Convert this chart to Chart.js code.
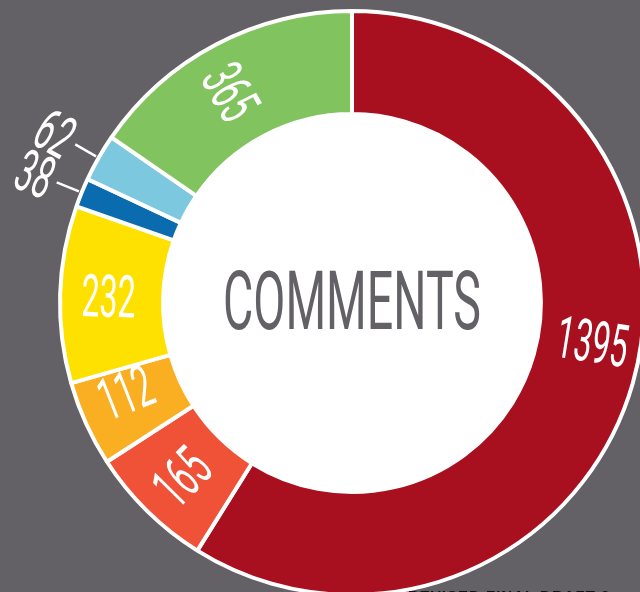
<!DOCTYPE html>
<html>
<head>
<meta charset="utf-8">
<script src="https://cdn.jsdelivr.net/npm/chart.js@4"></script>
<style>
  html, body { margin: 0; padding: 0; width: 640px; height: 592px; overflow: hidden; background: #636166; }
  #wrap { position: absolute; left: 0; top: 0; width: 704px; height: 606px; }
  #footer { position: absolute; left: 408px; top: 587px; font: bold 15px "Liberation Sans", Arial, sans-serif; color: #111; letter-spacing: 1px; white-space: nowrap; }
</style>
</head>
<body>
<div id="wrap"><canvas id="comments"></canvas></div>
<div id="footer">REVISED FINAL DRAFT 2</div>
<script>
// segment data, clockwise from 12 o'clock
const segments = ['Red', 'Coral', 'Orange', 'Yellow', 'Blue', 'Light blue', 'Green'];
const counts = [1395, 165, 112, 232, 38, 62, 365];
const colors = ['#A8101F', '#F05237', '#FAAE22', '#FFE100', '#0A6BAE', '#7BC8DF', '#80C35F'];
const centerTitle = 'COMMENTS';
// small nudges (degrees) for where the number sits along its slice
const labelShift = [-7, 0, 3, 0, 0, 0, -2];

const FONT = 'Roboto, "Liberation Sans", sans-serif';

function drawText(ctx, text, x, y, rot, size, width, color) {
    ctx.save();
    ctx.translate(x, y);
    ctx.rotate(rot);
    ctx.font = size + 'px ' + FONT;
    const w = ctx.measureText(text).width;
    ctx.scale(width / w, 1);
    ctx.fillStyle = color;
    ctx.textAlign = 'center';
    ctx.textBaseline = 'alphabetic';
    ctx.fillText(text, 0, size * 0.711 / 2);
    ctx.restore();
}

const labelPlugin = {
    id: 'sliceLabels',
    beforeDatasetsDraw(chart) {
        // white hole in the middle
        const arc = chart.getDatasetMeta(0).data[0];
        if (!arc) return;
        const ctx = chart.ctx;
        ctx.save();
        ctx.fillStyle = '#fff';
        ctx.beginPath();
        ctx.arc(arc.x, arc.y, arc.innerRadius + 1, 0, Math.PI * 2);
        ctx.fill();
        ctx.restore();
    },
    afterDraw(chart) {
        const ctx = chart.ctx;
        const meta = chart.getDatasetMeta(0);
        meta.data.forEach((arc, i) => {
            const p = arc.getProps(['x', 'y', 'startAngle', 'endAngle', 'innerRadius', 'outerRadius'], true);
            const a = (p.startAngle + p.endAngle) / 2 + labelShift[i] * Math.PI / 180;
            const txt = String(counts[i]);
            // read outward on the right, inward on the left
            const rot = Math.cos(a) >= 0 ? a : a + Math.PI;
            const outside = counts[i] < 100;
            const r = outside ? p.outerRadius + 50 : (p.innerRadius + p.outerRadius) / 2 + 3;
            if (outside) {
                ctx.save();
                ctx.strokeStyle = '#fff';
                ctx.lineWidth = 2.5;
                ctx.beginPath();
                ctx.moveTo(p.x + Math.cos(a) * (p.outerRadius + 3), p.y + Math.sin(a) * (p.outerRadius + 3));
                ctx.lineTo(p.x + Math.cos(a) * (p.outerRadius + 27), p.y + Math.sin(a) * (p.outerRadius + 27));
                ctx.stroke();
                ctx.restore();
            }
            drawText(ctx, txt, p.x + Math.cos(a) * r, p.y + Math.sin(a) * r, rot, 59, 18 * txt.length, '#fff');
        });
        const c = meta.data[0];
        drawText(ctx, centerTitle, c.x, c.y - 3, 0, 81, 258, '#636166');
    }
};

new Chart(document.getElementById('comments'), {
    type: 'doughnut',
    data: {
        labels: segments,
        datasets: [{
            data: counts,
            backgroundColor: colors,
            borderColor: '#ffffff',
            borderWidth: 4
        }]
    },
    options: {
        responsive: true,
        maintainAspectRatio: false,
        animation: false,
        radius: 292,
        cutout: '64.7%',
        plugins: {
            legend: { display: false },
            tooltip: { enabled: false }
        }
    },
    plugins: [labelPlugin]
});
</script>
</body>
</html>
